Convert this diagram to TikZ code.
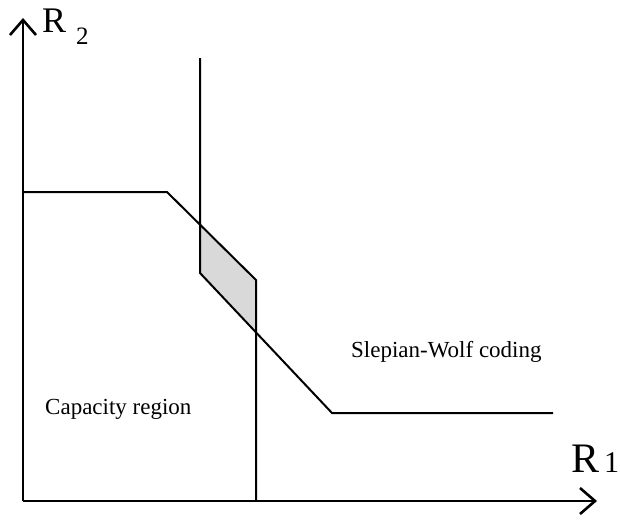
\documentclass[tikz,border=0pt]{standalone}
\usepackage{fontspec}
\setmainfont{Liberation Serif}
\usetikzlibrary{arrows.meta}
\definecolor{overlap}{gray}{0.85}

\begin{document}
\begin{tikzpicture}[x=1pt,y=-1pt,
   axis/.style={line width=2.6pt,-{Straight Barb[length=15pt,width=26pt,line width=2.6pt]}},
   bound/.style={line width=2pt,line join=miter},
   lbl/.style={font=\fontsize{23}{27}\selectfont,inner sep=0pt}]
  \useasboundingbox (0,0) rectangle (620,519);
  % corner points of the two regions
  \coordinate (O) at (23,501);
  \coordinate (ytip) at (23,18);
  \coordinate (xtip) at (597,501);
  \coordinate (capL) at (22,192);
  \coordinate (capK) at (167,192);
  \coordinate (capR) at (256,280);
  \coordinate (capB) at (256,501);
  \coordinate (swT) at (200,58);
  \coordinate (swK) at (200,273);
  \coordinate (swR) at (332,413);
  \coordinate (swE) at (553,413);
  % overlap of the two regions
  \fill[overlap] (200,224.6) -- (swK) -- (256,332.4) -- (capR) -- cycle;
  \draw[bound] (capL) -- (capK) -- (capR) -- (capB);
  \draw[bound] (swT) -- (swK) -- (swR) -- (swE);
  \draw[axis] (O) -- (ytip);
  \draw[axis] (O) -- (xtip);
  \node[lbl,anchor=base west] (cap) at (45,414) {Capacity region};
  \node[lbl,anchor=base west] (sw) at (351,357) {Slepian-Wolf coding};
  \node[inner sep=0pt,anchor=base west] (r2) at (42,33)
     {\fontsize{36}{36}\selectfont R\kern10pt\raisebox{-12pt}{\fontsize{25}{25}\selectfont 2}};
  \node[inner sep=0pt,anchor=base west] (r1) at (571,472)
     {\fontsize{42}{42}\selectfont R\kern5pt\fontsize{30}{30}\selectfont 1};
\end{tikzpicture}
\end{document}
